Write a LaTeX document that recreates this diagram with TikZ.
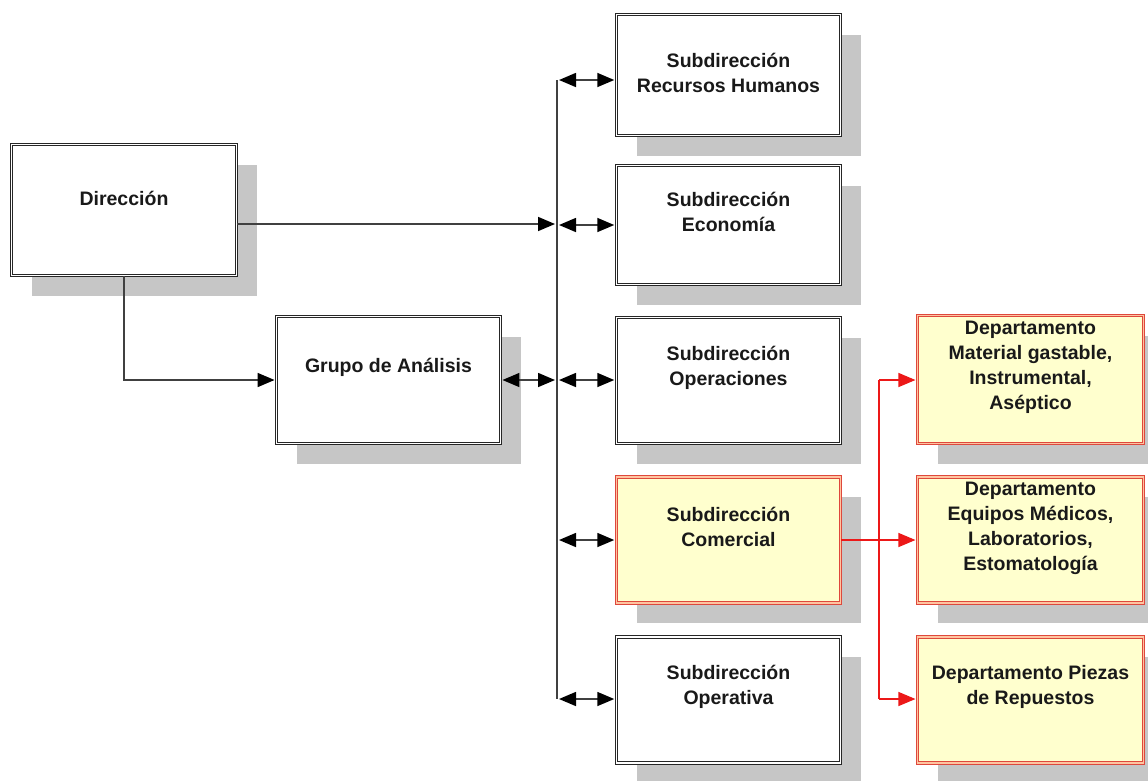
\documentclass[tikz,border=0pt]{standalone}
\usepackage{fontspec}
\setmainfont{Liberation Sans}
\usetikzlibrary{arrows.meta,shadows}
\definecolor{shadowgray}{RGB}{198,198,198}
\definecolor{paleyellow}{RGB}{255,255,206}
\definecolor{redline}{RGB}{222,72,60}
\definecolor{redgap}{RGB}{255,196,160}
\definecolor{connred}{RGB}{236,24,24}
\begin{document}
\begin{tikzpicture}[x=1pt,y=-1pt,
  unit/.style={rectangle, draw=black!85, double=white, double distance=1.4pt,
    line width=0.9pt, fill=white, minimum width=224pt, minimum height=126pt,
    inner sep=0pt,
    drop shadow={shadow xshift=20pt, shadow yshift=-20pt, fill=shadowgray, opacity=1}},
  hl/.style={unit, draw=redline, double=redgap, fill=paleyellow},
  txt/.style={font=\bfseries\fontsize{19.5}{25}\selectfont, align=center,
    inner sep=0pt, text=black!90},
  tip/.tip={Triangle[length=17pt 0 0, width=14pt 0 0, color=black]},
  rtip/.tip={Triangle[length=17pt 0 0, width=14pt 0 0, color=connred]},
  conn/.style={draw=black!75, line width=1.6pt},
  rconn/.style={draw=connred, line width=1.2pt},
]
\useasboundingbox[fill=white] (0,0) rectangle (1148,780);

% boxes
\node[unit, minimum width=225pt, minimum height=131pt] (dir) at (124,210) {};
\node[unit, minimum height=127pt] (grp) at (388.5,380) {};
\node[unit, minimum height=121pt] (rh)  at (728.5,75) {};
\node[unit, minimum height=119pt] (eco) at (728.5,225) {};
\node[unit] (ope) at (728.5,380.5) {};
\node[hl]   (com) at (728.5,540) {};
\node[unit] (opv) at (728.5,700) {};
\node[hl, minimum width=225.6pt, minimum height=128pt] (d1) at (1030.5,379.5) {};
\node[hl, minimum width=225.6pt] (d2) at (1030.5,540) {};
\node[hl, minimum width=225.6pt] (d3) at (1030.5,700) {};

% labels
\node[txt] (dir-t) at ([yshift=12pt]dir.center) {Dirección};
\node[txt] (grp-t) at ([yshift=13pt]grp.center) {Grupo de Análisis};
\node[txt] (rh-t)  at ([yshift=2pt]rh.center) {Subdirección\\Recursos Humanos};
\node[txt] (eco-t) at ([yshift=13pt]eco.center) {Subdirección\\Economía};
\node[txt] (ope-t) at ([yshift=13pt]ope.center) {Subdirección\\Operaciones};
\node[txt] (com-t) at ([yshift=13pt]com.center) {Subdirección\\Comercial};
\node[txt] (opv-t) at ([yshift=13pt]opv.center) {Subdirección\\Operativa};
\node[txt] (d1-t) at ([yshift=12.5pt]d1.center) {Departamento\\Material gastable,\\Instrumental,\\Aséptico};
\node[txt] (d2-t) at ([yshift=12pt]d2.center) {Departamento\\Equipos Médicos,\\Laboratorios,\\Estomatología};
\node[txt] (d3-t) at ([yshift=13pt]d3.center) {Departamento Piezas\\de Repuestos};

% black bus
\coordinate (bustop) at (557,80);
\coordinate (busbot) at (557,699);
\coordinate (bdir) at (555,224);
\coordinate (bgrp) at (555,380);
\coordinate (b1) at (559,80);
\coordinate (b2) at (559,225);
\coordinate (b3) at (559,380);
\coordinate (b4) at (559,540);
\coordinate (b5) at (559,699);

\draw[conn] (bustop) -- (busbot);
\draw[conn, -tip] ([yshift=-14pt]dir.east) -- (bdir);
\draw[conn, -tip] (dir.south) -- (dir.south |- grp.west) -- ([xshift=-1.5pt]grp.west);
\draw[conn, tip-tip, shorten <=1.5pt] (grp.east) -- (bgrp);
\foreach \b/\n in {b1/rh, b2/eco, b3/ope, b4/com, b5/opv}
  \draw[conn, tip-tip, shorten >=1.8pt] (\b) -- (\b -| \n.west);

% red bus
\coordinate (rtop) at (879,380);
\coordinate (rbot) at (879,699);
\draw[rconn] (rtop) -- (rbot);
\draw[rconn, -rtip, shorten >=1.8pt] (com.east) -- (com.east -| d2.west);
\draw[rconn, -rtip, shorten >=1.8pt] (rtop) -- (rtop -| d1.west);
\draw[rconn, -rtip, shorten >=1.8pt] (rbot) -- (rbot -| d3.west);
\end{tikzpicture}
\end{document}
